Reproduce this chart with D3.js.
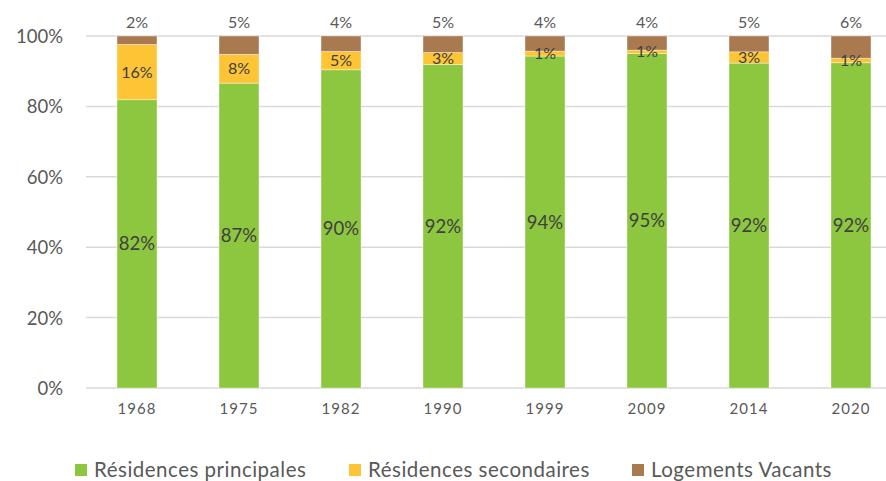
<!DOCTYPE html>
<html>
<head>
<meta charset="utf-8">
<script src="https://cdn.jsdelivr.net/npm/d3@7"></script>
<style>
  html, body { margin: 0; padding: 0; background: #fff; }
  svg { display: block; }
  text { font-family: Lato, "Open Sans", sans-serif; }
</style>
</head>
<body>
<svg id="chart" width="886" height="481"></svg>
<script>
const years = ["1968", "1975", "1982", "1990", "1999", "2009", "2014", "2020"];
const principales = [81.9, 86.6, 90.4, 91.9, 94.3, 95.0, 92.3, 92.4];
const secondaires = [15.7, 8.2, 5.2, 3.4, 1.4, 1.0, 3.2, 1.3];
const vacants = [2.4, 5.2, 4.4, 4.7, 4.3, 4.0, 4.5, 6.3];
const seriesNames = ["Résidences principales", "Résidences secondaires", "Logements Vacants"];
const seriesColors = ["#8DC63F", "#FDC436", "#A97A50"];
const yTicks = [0, 20, 40, 60, 80, 100];

const svg = d3.select("#chart");
const W = 886, H = 481;
const plot = { left: 86, right: 902, top: 36, bottom: 388 };

const x = d3.scaleBand().domain(years).range([plot.left, plot.right])
  .paddingInner(0.608).paddingOuter(0.304);
const y = d3.scaleLinear().domain([0, 100]).range([plot.bottom, plot.top]);

// gridlines
svg.append("g").selectAll("line").data(yTicks).join("line")
  .attr("x1", plot.left).attr("x2", W)
  .attr("y1", d => y(d)).attr("y2", d => y(d))
  .attr("stroke", "#D9D9D9").attr("stroke-width", 1.5);

// y axis labels
const yAxis = d3.axisLeft(y).tickValues(yTicks).tickFormat(d => d + "%").tickSize(0).tickPadding(0);
const gy = svg.append("g").attr("transform", `translate(63,0)`).call(yAxis);
gy.select(".domain").remove();
gy.selectAll("text").attr("font-size", "18.5px").attr("fill", "#595959")
  .attr("font-family", "Lato, sans-serif").attr("dy", "0.35em");

// stack
const table = years.map((yr, i) => ({ year: yr, s0: principales[i], s1: secondaires[i], s2: vacants[i] }));
const keys = ["s0", "s1", "s2"];
const stacked = d3.stack().keys(keys)(table);

const layers = svg.append("g").selectAll("g").data(stacked).join("g")
  .attr("fill", (d, i) => seriesColors[i]);
layers.selectAll("rect").data(d => d).join("rect")
  .attr("x", d => x(d.data.year))
  .attr("width", x.bandwidth())
  .attr("y", d => y(d[1]))
  .attr("height", d => y(d[0]) - y(d[1]))
  .attr("stroke", "#ffffff").attr("stroke-opacity", 0.5).attr("stroke-width", 0.75);

// labels
const fmt = v => Math.round(v) + "%";
stacked.forEach((layer, li) => {
  svg.append("g").selectAll("text").data(layer).join("text")
    .attr("x", d => x(d.data.year) + x.bandwidth() / 2)
    .attr("y", d => li === 2 ? y(100) - 14 : (y(d[0]) + y(d[1])) / 2)
    .attr("dy", "0.35em")
    .attr("text-anchor", "middle")
    .attr("font-size", li === 0 ? "18.5px" : "16px")
    .attr("fill", li === 2 ? "#595959" : "#404040")
    .text(d => fmt(d[1] - d[0]));
});

// x axis labels
const xAxis = d3.axisBottom(x).tickSize(0).tickPadding(0);
const gx = svg.append("g").attr("transform", `translate(0,${plot.bottom + 21})`).call(xAxis);
gx.select(".domain").remove();
gx.selectAll("text").attr("font-size", "15px").attr("fill", "#595959")
  .attr("font-family", "Lato, sans-serif").attr("dy", "0.35em").attr("letter-spacing", "1px");

// legend
const legendX = [75, 349, 632];
const lg = svg.append("g").selectAll("g").data(seriesNames).join("g")
  .attr("transform", (d, i) => `translate(${legendX[i]},464)`);
lg.append("rect").attr("width", 12).attr("height", 12).attr("fill", (d, i) => seriesColors[i]);
lg.append("text").attr("x", 19).attr("y", 6).attr("dy", "0.35em")
  .attr("font-size", "20.5px").attr("fill", "#595959").attr("letter-spacing", "0.5px")
  .text(d => d);
</script>
</body>
</html>
